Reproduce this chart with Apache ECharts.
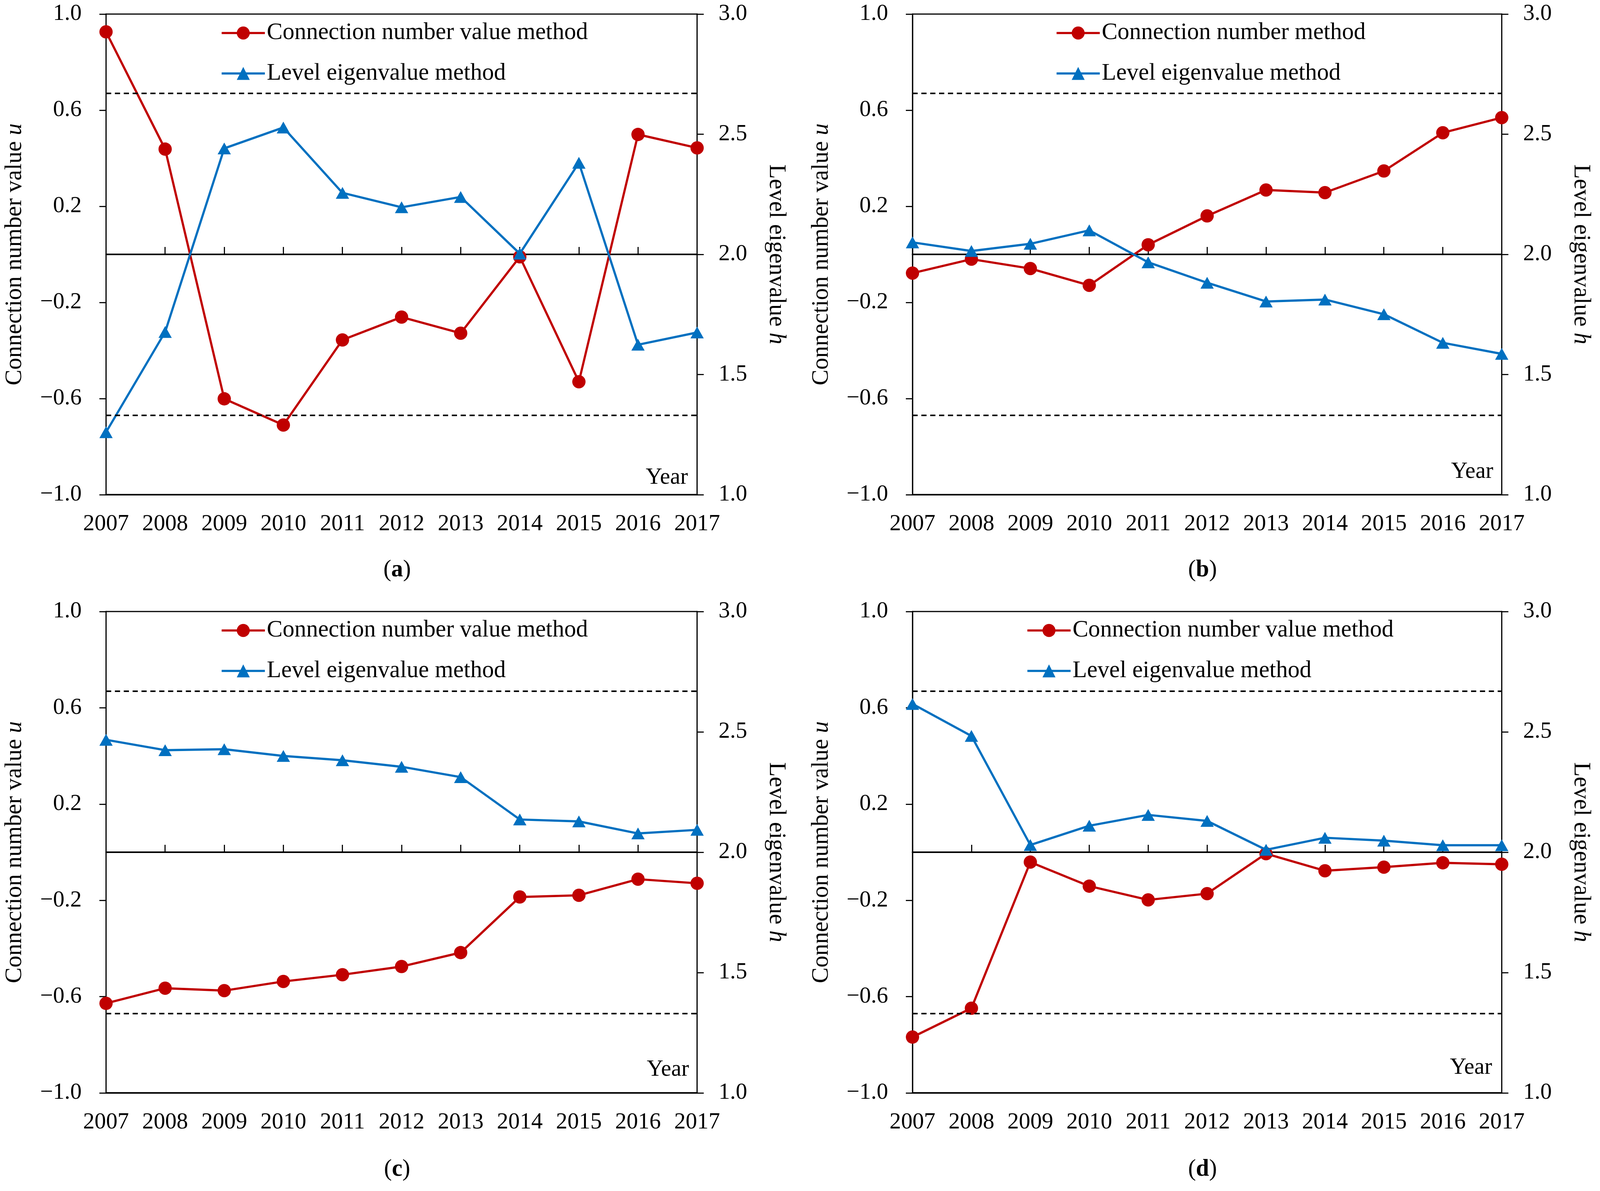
<!DOCTYPE html>
<html>
<head>
<meta charset="utf-8">
<script src="https://cdn.jsdelivr.net/npm/echarts@6/dist/echarts.min.js"></script>
<style>
html,body{margin:0;padding:0;background:#fff;overflow:hidden;}
#chart{width:100vw;height:100vh;}
</style>
</head>
<body>
<div id="chart"></div>
<script>
// ---- data ----
const years = ['2007','2008','2009','2010','2011','2012','2013','2014','2015','2016','2017'];
const uA = [0.926, 0.438, -0.601, -0.710, -0.356, -0.261, -0.328, -0.010, -0.530, 0.499, 0.443];
const hA = [1.260, 1.677, 2.441, 2.528, 2.256, 2.196, 2.239, 2.003, 2.381, 1.624, 1.675];
const uB = [-0.078, -0.020, -0.059, -0.129, 0.040, 0.160, 0.268, 0.257, 0.347, 0.506, 0.569];
const hB = [2.050, 2.014, 2.044, 2.100, 1.967, 1.882, 1.804, 1.812, 1.751, 1.632, 1.586];
const uC = [-0.628, -0.565, -0.575, -0.537, -0.509, -0.475, -0.417, -0.186, -0.179, -0.112, -0.129];
const hC = [2.467, 2.424, 2.428, 2.400, 2.382, 2.355, 2.312, 2.136, 2.128, 2.078, 2.093];
const uD = [-0.768, -0.648, -0.041, -0.141, -0.198, -0.172, -0.006, -0.077, -0.062, -0.044, -0.050];
const hD = [2.616, 2.483, 2.030, 2.110, 2.155, 2.130, 2.010, 2.060, 2.048, 2.029, 2.029];
const uNames = ['Connection number value method', 'Connection number method', 'Connection number value method', 'Connection number value method'];
const hName = 'Level eigenvalue method';
const panelLetters = ['a', 'b', 'c', 'd'];
const uTicks = [-1.0, -0.6, -0.2, 0.2, 0.6, 1.0];
const thresholds = [0.667, -0.667];
const uAll = [uA, uB, uC, uD];
const hAll = [hA, hB, hC, hD];

// ---- layout (reference pixels, 4331 x 3048) ----
const RW = 4331, RH = 3048;
const layout = [
  {l: 287,  r: 1887, t: 36,   b: 1266, legX: 597,  yearX: 1862, yearY: 1223, capX: 1075, capY: 1459},
  {l: 2470, r: 4065, t: 36,   b: 1266, legX: 2857, yearX: 4042, yearY: 1208, capX: 3255, capY: 1459},
  {l: 287,  r: 1887, t: 1565, b: 2797, legX: 597,  yearX: 1865, yearY: 2738, capX: 1075, capY: 2993},
  {l: 2470, r: 4065, t: 1565, b: 2797, legX: 2778, yearX: 4039, yearY: 2733, capX: 3255, capY: 2993}
];

const el = document.getElementById('chart');
const chart = echarts.init(el, null, {renderer: 'canvas'});
const W = chart.getWidth(), H = chart.getHeight();
const sx = W / RW, sy = H / RH, ss = Math.min(sx, sy);
const X = v => v * sx, Y = v => v * sy, S = v => v * ss;

const FONT = '"Liberation Serif", "Times New Roman", serif';
const FS = S(62);     // tick labels
const FL = S(64);     // legend and axis titles
const RED = '#C00000', BLUE = '#0070C0';
const fmt = v => (v < 0 ? '\u2212' + Math.abs(v).toFixed(1) : v.toFixed(1));

const grid = [], xAxis = [], yAxis = [], series = [], legend = [], graphic = [];

layout.forEach((p, i) => {
  grid.push({
    left: X(p.l), top: Y(p.t), width: X(p.r - p.l), height: Y(p.b - p.t),
    show: true, borderColor: '#000', borderWidth: S(3), backgroundColor: 'transparent',
    containLabel: false
  });
  xAxis.push({
    type: 'category', gridIndex: i, data: years, boundaryGap: false, position: 'bottom',
    axisLine: {show: true, onZero: false, lineStyle: {color: '#000', width: S(4)}},
    axisTick: {show: false},
    axisLabel: {show: true, interval: 0, margin: Y(46), color: '#000', fontFamily: FONT, fontSize: FS},
    splitLine: {show: false}
  });
  xAxis.push({
    type: 'category', gridIndex: i, data: years, boundaryGap: false, position: 'top',
    axisLine: {show: true, onZero: true, onZeroAxisIndex: 2 * i, lineStyle: {color: '#000', width: S(4)}},
    axisTick: {show: true, interval: 0, inside: false, length: Y(19), lineStyle: {color: '#000', width: S(3)}},
    axisLabel: {show: false},
    splitLine: {show: false}
  });
  yAxis.push({
    type: 'value', gridIndex: i, position: 'left', min: -1, max: 1,
    name: 'Connection number value {i|u}', nameLocation: 'middle', nameRotate: 90, nameGap: X(214),
    nameTextStyle: {color: '#000', fontFamily: FONT, fontSize: FL,
      rich: {i: {fontStyle: 'italic', fontFamily: FONT, fontSize: FL, color: '#000'}}},
    axisLine: {show: true, onZero: false, lineStyle: {color: '#000', width: S(3)}},
    axisTick: {show: true, inside: false, length: X(18), customValues: uTicks, lineStyle: {color: '#000', width: S(3)}},
    axisLabel: {show: true, margin: X(66), customValues: uTicks, formatter: fmt, color: '#000', fontFamily: FONT, fontSize: FS},
    splitLine: {show: false}
  });
  yAxis.push({
    type: 'value', gridIndex: i, position: 'right', min: 1, max: 3, interval: 0.5,
    name: 'Level eigenvalue {i|h}', nameLocation: 'middle', nameRotate: -90, nameGap: X(182),
    nameTextStyle: {color: '#000', fontFamily: FONT, fontSize: FL,
      rich: {i: {fontStyle: 'italic', fontFamily: FONT, fontSize: FL, color: '#000'}}},
    axisLine: {show: true, onZero: false, lineStyle: {color: '#000', width: S(3)}},
    axisTick: {show: true, inside: false, length: X(18), lineStyle: {color: '#000', width: S(3)}},
    axisLabel: {show: true, margin: X(58), formatter: fmt, color: '#000', fontFamily: FONT, fontSize: FS},
    splitLine: {show: false}
  });
  series.push({
    type: 'line', name: uNames[i], xAxisIndex: 2 * i, yAxisIndex: 2 * i, data: uAll[i],
    symbol: 'circle', symbolSize: S(36), color: RED,
    lineStyle: {color: RED, width: S(6)}, itemStyle: {color: RED},
    z: 3, animation: false,
    markLine: {
      silent: true, symbol: 'none', label: {show: false}, animation: false,
      lineStyle: {color: '#000', width: S(4), type: [S(14), S(10)]},
      data: thresholds.map(v => ({yAxis: v}))
    }
  });
  series.push({
    type: 'line', name: hName, xAxisIndex: 2 * i, yAxisIndex: 2 * i + 1, data: hAll[i],
    symbol: 'triangle', symbolSize: [S(36), S(32)], color: BLUE,
    lineStyle: {color: BLUE, width: S(6)}, itemStyle: {color: BLUE},
    z: 4, animation: false
  });
  legend.push({
    orient: 'vertical', left: X(p.legX), top: Y(p.t + 18), padding: 0,
    itemWidth: S(117), itemHeight: S(44), itemGap: Y(103) - S(64),
    data: [uNames[i], hName],
    lineStyle: {width: S(6)},
    textStyle: {color: '#000', fontFamily: FONT, fontSize: FL, lineHeight: S(64)},
    selectedMode: false
  });
  graphic.push({
    type: 'text', x: X(p.yearX), y: Y(p.yearY), silent: true,
    style: {text: 'Year', fill: '#000', font: FS + 'px ' + FONT, textAlign: 'right', textVerticalAlign: 'middle'}
  });
  graphic.push({
    type: 'text', x: X(p.capX), y: Y(p.capY), silent: true,
    style: {
      text: '({b|' + panelLetters[i] + '})', fill: '#000', fontFamily: FONT, fontSize: FL,
      textAlign: 'center', textVerticalAlign: 'middle',
      rich: {b: {fontWeight: 'bold', fontFamily: FONT, fontSize: FL, fill: '#000'}}
    }
  });
});

chart.setOption({
  backgroundColor: '#fff',
  animation: false,
  grid, xAxis, yAxis, series, legend, graphic
});
window.addEventListener('resize', () => chart.resize());
</script>
</body>
</html>
